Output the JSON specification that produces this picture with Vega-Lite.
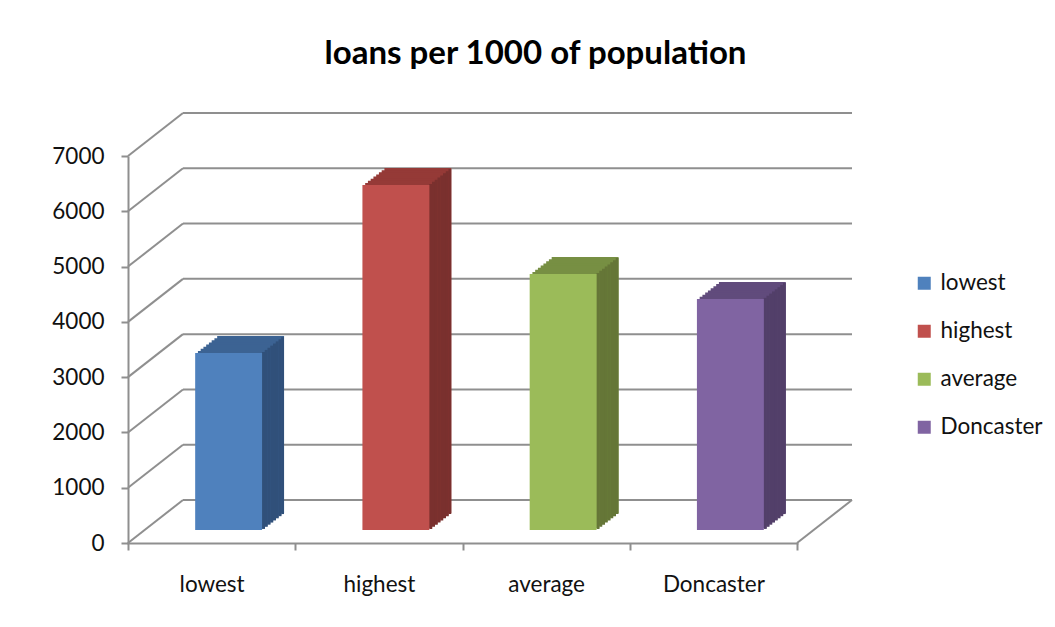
{
  "$schema": "https://vega.github.io/schema/vega-lite/v6.json",
  "width": 669,
  "height": 387,
  "autosize": {"type": "none"},
  "padding": {"left": 128, "top": 156, "right": 258, "bottom": 84},
  "background": "white",
  "title": {
    "text": "loans per 1000 of population",
    "font": "Lato",
    "fontSize": 33,
    "fontWeight": "bold",
    "color": "#000000",
    "anchor": "middle",
    "frame": "group",
    "dx": 73,
    "offset": 41
  },
  "datasets": {
    "bars": [
      {"category": "lowest", "value": 3200},
      {"category": "highest", "value": 6240},
      {"category": "average", "value": 4630},
      {"category": "Doncaster", "value": 4180}
    ],
    "grid": [
      {"v": 0}, {"v": 1000}, {"v": 2000}, {"v": 3000},
      {"v": 4000}, {"v": 5000}, {"v": 6000}, {"v": 7000}
    ]
  },
  "config": {
    "view": {"stroke": null},
    "axis": {
      "domainColor": "#8f8f8f",
      "domainWidth": 2,
      "tickColor": "#8f8f8f",
      "tickWidth": 2,
      "tickSize": 7,
      "labelFont": "Lato",
      "labelFontSize": 22.5,
      "labelColor": "#111111",
      "grid": false,
      "title": null
    },
    "legend": {
      "labelFont": "Lato",
      "labelFontSize": 22.5,
      "labelColor": "#111111"
    }
  },
  "resolve": {"scale": {"color": "independent"}, "legend": {"color": "independent"}},
  "layer": [
    {
      "data": {"name": "grid"},
      "mark": {"type": "rule", "color": "#8f8f8f", "strokeWidth": 2, "xOffset": 55, "x2Offset": 55, "yOffset": -43},
      "encoding": {
        "x": {"datum": "lowest", "bandPosition": 0, "type": "nominal"},
        "x2": {"datum": "Doncaster", "bandPosition": 1},
        "y": {"field": "v", "type": "quantitative"}
      }
    },
    {
      "data": {"name": "grid"},
      "mark": {"type": "rule", "color": "#8f8f8f", "strokeWidth": 2, "x2Offset": 55, "y2Offset": -43},
      "encoding": {
        "x": {"datum": "lowest", "bandPosition": 0, "type": "nominal"},
        "x2": {"datum": "lowest", "bandPosition": 0},
        "y": {"field": "v", "type": "quantitative"},
        "y2": {"field": "v"}
      }
    },
    {
      "data": {"name": "grid"},
      "transform": [{"filter": "datum.v === 0"}],
      "mark": {"type": "rule", "color": "#8f8f8f", "strokeWidth": 2, "x2Offset": 55, "y2Offset": -43},
      "encoding": {
        "x": {"datum": "Doncaster", "bandPosition": 1, "type": "nominal"},
        "x2": {"datum": "Doncaster", "bandPosition": 1},
        "y": {"field": "v", "type": "quantitative"},
        "y2": {"field": "v"}
      }
    },
    {
      "data": {"name": "bars"},
      "layer": [
        {"mark": {"type": "bar", "width": {"band": 0.4}, "xOffset": 39, "yOffset": -30, "y2Offset": -30}},
        {"mark": {"type": "bar", "width": {"band": 0.4}, "xOffset": 36.25, "yOffset": -27.875, "y2Offset": -27.875}},
        {"mark": {"type": "bar", "width": {"band": 0.4}, "xOffset": 33.5, "yOffset": -25.75, "y2Offset": -25.75}},
        {"mark": {"type": "bar", "width": {"band": 0.4}, "xOffset": 30.75, "yOffset": -23.625, "y2Offset": -23.625}},
        {"mark": {"type": "bar", "width": {"band": 0.4}, "xOffset": 28, "yOffset": -21.5, "y2Offset": -21.5}},
        {"mark": {"type": "bar", "width": {"band": 0.4}, "xOffset": 25.25, "yOffset": -19.375, "y2Offset": -19.375}},
        {"mark": {"type": "bar", "width": {"band": 0.4}, "xOffset": 22.5, "yOffset": -17.25, "y2Offset": -17.25}},
        {"mark": {"type": "bar", "width": {"band": 0.4}, "xOffset": 19.75, "yOffset": -15.125, "y2Offset": -15.125}}
      ],
      "encoding": {
        "x": {"field": "category", "type": "nominal", "sort": null},
        "y": {"field": "value", "type": "quantitative"},
        "y2": {"datum": 0},
        "color": {
          "field": "category", "type": "nominal", "legend": null,
          "scale": {"domain": ["lowest", "highest", "average", "Doncaster"], "range": ["#3c6393", "#953a37", "#778f43", "#614b7c"]}
        }
      }
    },
    {
      "data": {"name": "bars"},
      "layer": [
        {"mark": {"type": "rule", "strokeWidth": 3, "strokeCap": "butt", "xOffset": 51.875, "yOffset": -14.0625, "y2Offset": -14.0625}},
        {"mark": {"type": "rule", "strokeWidth": 3, "strokeCap": "butt", "xOffset": 54.625, "yOffset": -16.1875, "y2Offset": -16.1875}},
        {"mark": {"type": "rule", "strokeWidth": 3, "strokeCap": "butt", "xOffset": 57.375, "yOffset": -18.3125, "y2Offset": -18.3125}},
        {"mark": {"type": "rule", "strokeWidth": 3, "strokeCap": "butt", "xOffset": 60.125, "yOffset": -20.4375, "y2Offset": -20.4375}},
        {"mark": {"type": "rule", "strokeWidth": 3, "strokeCap": "butt", "xOffset": 62.875, "yOffset": -22.5625, "y2Offset": -22.5625}},
        {"mark": {"type": "rule", "strokeWidth": 3, "strokeCap": "butt", "xOffset": 65.625, "yOffset": -24.6875, "y2Offset": -24.6875}},
        {"mark": {"type": "rule", "strokeWidth": 3, "strokeCap": "butt", "xOffset": 68.375, "yOffset": -26.8125, "y2Offset": -26.8125}},
        {"mark": {"type": "rule", "strokeWidth": 2.8, "strokeCap": "butt", "xOffset": 71.0, "yOffset": -28.9375, "y2Offset": -28.9375}}
      ],
      "encoding": {
        "x": {"field": "category", "type": "nominal", "sort": null},
        "y": {"field": "value", "type": "quantitative"},
        "y2": {"datum": 0},
        "color": {
          "field": "category", "type": "nominal", "legend": null,
          "scale": {"domain": ["lowest", "highest", "average", "Doncaster"], "range": ["#30507a", "#7a302e", "#657637", "#523f69"]}
        }
      }
    },
    {
      "data": {"name": "bars"},
      "mark": {"type": "bar", "width": {"band": 0.4}, "xOffset": 17, "yOffset": -13, "y2Offset": -13},
      "encoding": {
        "x": {
          "field": "category", "type": "nominal", "sort": null,
          "scale": {"domain": ["lowest", "highest", "average", "Doncaster"], "paddingInner": 0, "paddingOuter": 0},
          "axis": {"labelAngle": 0, "labelAlign": "center", "tickBand": "extent", "labelPadding": 34, "domainCap": "square"}
        },
        "y": {
          "field": "value", "type": "quantitative",
          "scale": {"domain": [0, 7000], "nice": false, "zero": true},
          "axis": {"values": [0, 1000, 2000, 3000, 4000, 5000, 6000, 7000], "format": "d", "labelPadding": 17}
        },
        "y2": {"datum": 0},
        "color": {
          "field": "category", "type": "nominal",
          "scale": {"domain": ["lowest", "highest", "average", "Doncaster"], "range": ["#4f81bd", "#c0504d", "#9bbb59", "#8064a2"]},
          "legend": {
            "title": null,
            "orient": "none",
            "legendX": 785,
            "legendY": 116,
            "symbolType": "square",
            "symbolSize": 169,
            "symbolStrokeWidth": 0,
            "symbolOpacity": 1,
            "rowPadding": 25,
            "labelOffset": 5,
            "padding": 0
          }
        }
      }
    }
  ]
}
